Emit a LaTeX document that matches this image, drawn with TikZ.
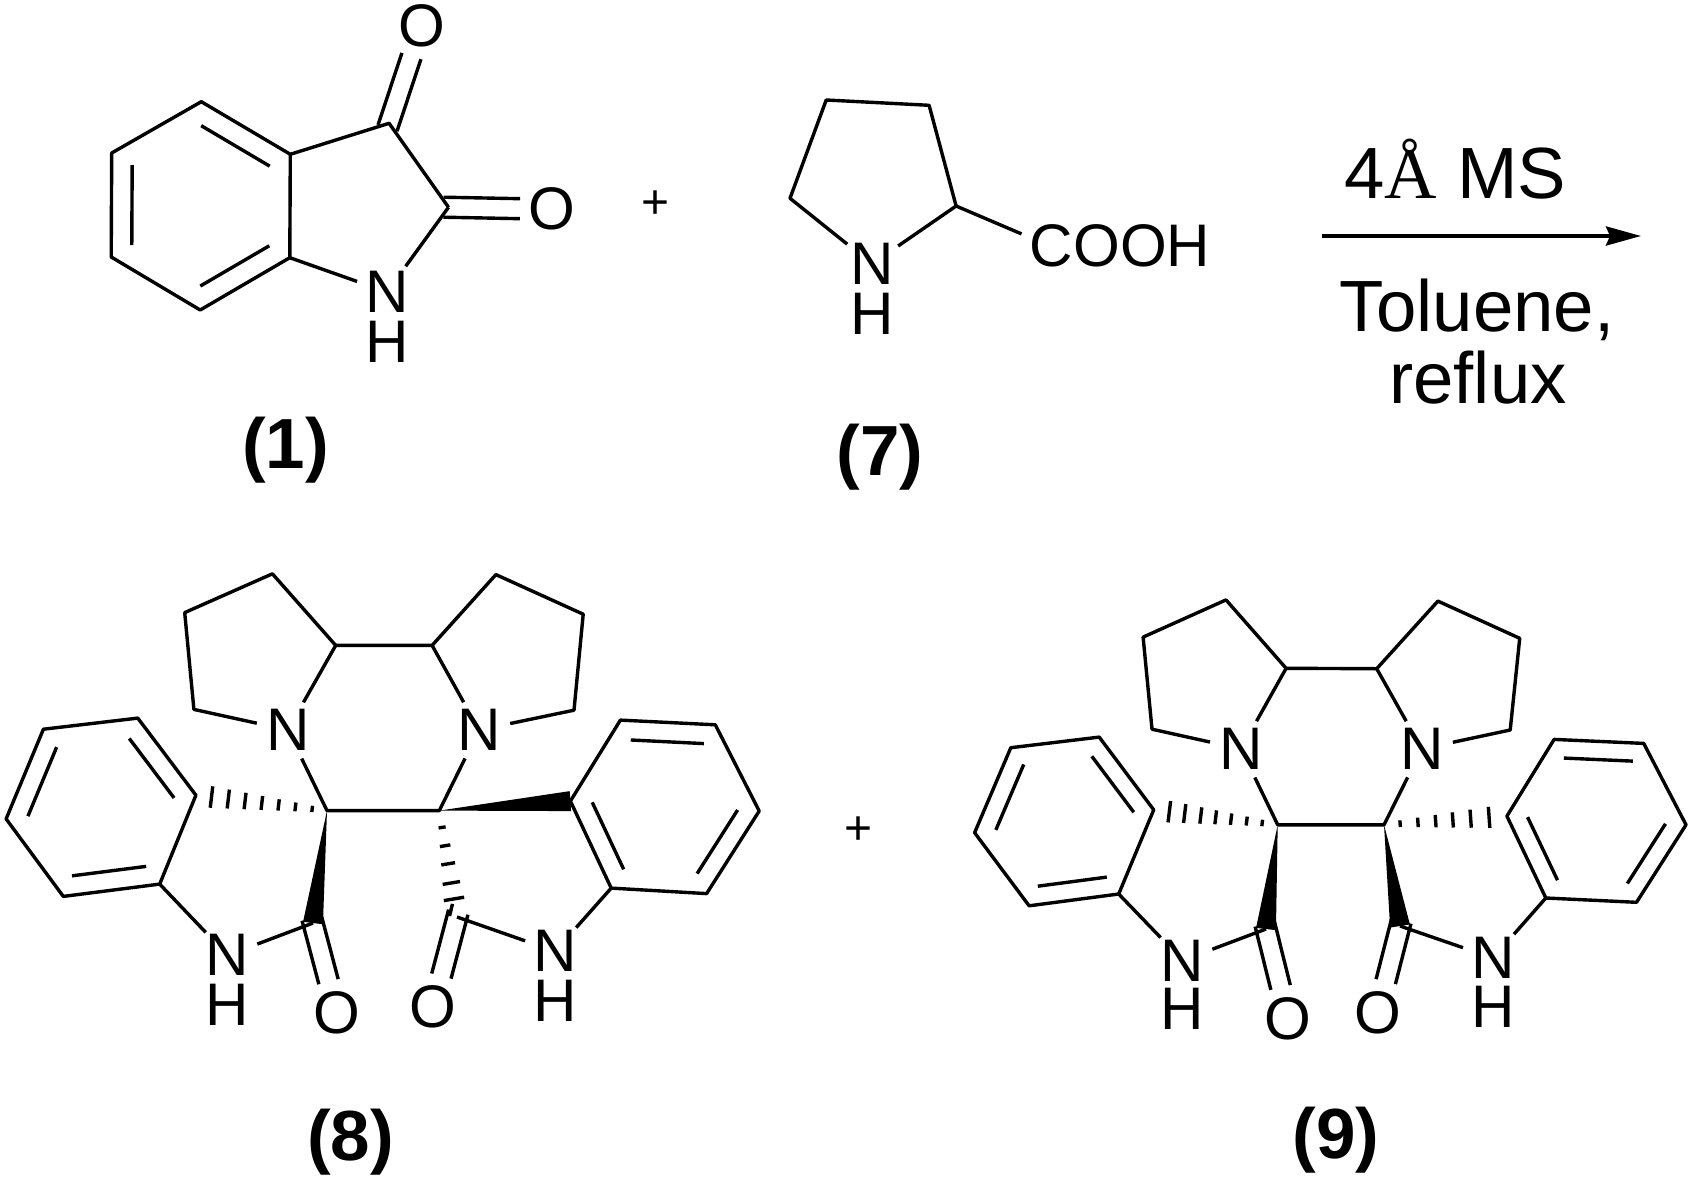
\documentclass[tikz,border=0pt]{standalone}
\usepackage{fontspec}
\setmainfont{Liberation Sans}
\newfontfamily\angfont{Liberation Serif}
\usetikzlibrary{calc,arrows.meta}
\def\innerbond(#1)(#2)(#3){\draw[bond] ($(#1)!0.23!(#3)$) -- ($(#2)!0.23!(#3)$);}
\def\dblbond(#1)(#2){\draw[bond, shorten <=-0.1cm, shorten >=0.64cm] ($(#1)!0.2cm!90:(#2)$) -- ($(#2)!0.2cm!-90:(#1)$); \draw[bond, shorten <=-0.1cm, shorten >=0.64cm] ($(#1)!0.2cm!-90:(#2)$) -- ($(#2)!0.2cm!90:(#1)$);}
\def\wedgebond(#1)(#2){\fill ($(#2)!0.2cm!90:(#1)$) -- (#1) -- ($(#2)!0.2cm!-90:(#1)$) -- cycle;}
\def\hashbond(#1)(#2)#3{\foreach \t [evaluate=\t as \w using 0.04+0.2*\t] in {#3} {\draw[bond] ($(#1)!\t!(#2)!\w cm!90:(#2)$) -- ($(#1)!\t!(#2)!\w cm!-90:(#2)$);}}
\tikzset{
	bond/.style={line width=0.68mm, line join=round},
	atom/.style={circle, inner sep=0.02cm, font=\fontsize{34.2}{34.2}\selectfont},
	compound/.style={anchor=base, inner sep=0, font=\fontsize{40.4}{40.4}\selectfont\bfseries},
	reagent/.style={anchor=base, inner sep=0, font=\fontsize{41.3}{41.3}\selectfont},
	plus/.style={inner sep=0, font=\fontsize{27.3}{27.3}\selectfont}
}

\begin{document}
\begin{tikzpicture}[x=0.02cm, y=-0.02cm]
	%%%%% START %%%%%
	\useasboundingbox (0, 0) rectangle (1692, 1176);
	
	%%%%% isatin %%%%%
	\coordinate (a1) at (201.3, 101.7);
	\coordinate (a2) at (290.3, 154.3);
	\coordinate (a3) at (289.8, 257.7);
	\coordinate (a4) at (200.2, 310);
	\coordinate (a5) at (111.2, 257);
	\coordinate (a6) at (111.7, 153);
	\coordinate (ac) at (200.7, 205.8);
	\coordinate (a7) at (389.1, 123.3);
	\coordinate (a8) at (448.5, 207.3);
	\node[atom] (an) at (387, 292) {N};
	\node[atom] (ah) at (387, 342) {H};
	\node[atom] (ao1) at (421.5, 25.7) {O};
	\node[atom] (ao2) at (552, 209.3) {O};
	
	\draw[bond] (a1) -- (a2) -- (a3) -- (a4) -- (a5) -- (a6) -- cycle;
	\innerbond(a1)(a2)(ac);
	\innerbond(a3)(a4)(ac);
	\innerbond(a5)(a6)(ac);
	\draw[bond] (a2) -- (a7) -- (a8);
	\draw[bond] (a3) -- (an);
	\draw[bond] (a8) -- (an);
	\dblbond(a7)(ao1);
	\dblbond(a8)(ao2);
	
	\node[plus] (plus1) at (655.7, 205) {+};
	
	%%%%% proline %%%%%
	\coordinate (b1) at (790, 198.3);
	\coordinate (b2) at (826.2, 100);
	\coordinate (b3) at (929.1, 105.3);
	\coordinate (b4) at (956.1, 206);
	\node[atom] (bn) at (872, 264) {N};
	\node[atom] (bh) at (872, 314.3) {H};
	\node[inner sep=0.16cm, font=\fontsize{34.2}{34.2}\selectfont] (cooh) at (1120, 246) {COOH};
	
	\draw[bond] (bn) -- (b1) -- (b2) -- (b3) -- (b4) -- (bn);
	\draw[bond] (b4) -- (cooh.173);
	
	%%%%% reagents %%%%%
	\node[reagent] (ms) at (1455, 198.3) {4{\angfont Å} MS};
	\coordinate (arrowtail) at (1322, 236);
	\coordinate (arrowtip) at (1641, 236);
	\draw[line width=0.8mm, -{Stealth[length=0.7cm, width=0.38cm, inset=0.08cm]}] (arrowtail) -- (arrowtip);
	\node[reagent] (toluene) at (1477, 331.7) {Toluene,};
	\node[reagent] (reflux) at (1478, 403.3) {reflux};
	
	\node[compound] (lab1) at (285.7, 468.7) {(1)};
	\node[compound] (lab7) at (880, 475) {(7)};
	
	%%%%% product 8 %%%%%
	\coordinate (c1) at (193.9, 709.4);
	\coordinate (c2) at (184.7, 612.6);
	\coordinate (c3) at (272.4, 573.8);
	\coordinate (c4) at (335.7, 645.4);
	\coordinate (c5) at (432.1, 645.4);
	\coordinate (c6) at (495.9, 574.6);
	\coordinate (c7) at (583.2, 614.2);
	\coordinate (c8) at (574, 710.2);
	\node[atom] (cn1) at (287.8, 730) {N};
	\node[atom] (cn2) at (479.1, 730) {N};
	\coordinate (cs1) at (327, 810.6);
	\coordinate (cs2) at (439.3, 810.6);
	
	\draw[bond] (cn1) -- (c1) -- (c2) -- (c3) -- (c4) -- (c5) -- (c6) -- (c7) -- (c8) -- (cn2);
	\draw[bond] (cn1) -- (c4);
	\draw[bond] (cn2) -- (c5);
	\draw[bond] (cn1) -- (cs1) -- (cs2) -- (cn2);
	
	\coordinate (d1) at (137.8, 718.1);
	\coordinate (d2) at (43.4, 729.2);
	\coordinate (d3) at (6.1, 818.9);
	\coordinate (d4) at (63.3, 896.4);
	\coordinate (d5) at (159.7, 884.1);
	\coordinate (d6) at (195.9, 795.2);
	\coordinate (dc) at (101, 807);
	\draw[bond] (d1) -- (d2) -- (d3) -- (d4) -- (d5) -- (d6) -- cycle;
	\innerbond(d1)(d6)(dc);
	\innerbond(d2)(d3)(dc);
	\innerbond(d4)(d5)(dc);
	
	\coordinate (e1) at (620.4, 720.1);
	\coordinate (e2) at (715.3, 724.8);
	\coordinate (e3) at (759.2, 811);
	\coordinate (e4) at (706.6, 893.6);
	\coordinate (e5) at (611.2, 888.1);
	\coordinate (e6) at (570.4, 801.1);
	\coordinate (ec) at (665.4, 806.5);
	\draw[bond] (e1) -- (e2) -- (e3) -- (e4) -- (e5) -- (e6) -- cycle;
	\innerbond(e1)(e2)(ec);
	\innerbond(e3)(e4)(ec);
	\innerbond(e5)(e6)(ec);
	
	\coordinate (co1) at (313, 923);
	\coordinate (co2) at (457, 917);
	\coordinate (cross) at (452.5, 903.9);
	\coordinate (crossend) at (449.5, 916);
	\node[atom] (fn1) at (227.6, 955.3) {N};
	\node[atom] (fh1) at (227.6, 1004.7) {H};
	\node[atom] (fn2) at (555.1, 951.3) {N};
	\node[atom] (fh2) at (555.1, 1000.7) {H};
	\node[atom] (fo1) at (336.7, 1012.6) {O};
	\node[atom] (fo2) at (433.2, 1007) {O};
	
	\hashbond(cs1)(d6){0.113,0.241,0.369,0.497,0.625,0.753,0.881}
	\wedgebond(cs1)(co1);
	\wedgebond(cs2)(e6);
	\hashbond(cs2)(co2){0.158,0.33,0.5,0.68,0.83}
	\draw[bond] (d5) -- (fn1) -- (co1);
	\draw[bond] (e5) -- (fn2) -- (co2);
	\dblbond(co1)(fo1);
	\dblbond(co2)(fo2);
	\draw[bond] (cross) -- (crossend);
	
	\node[plus] (plus2) at (858.4, 830.8) {+};
	\node[compound] (lab8) at (350.5, 1160) {(8)};
	
	%%%%% product 9 %%%%%
	\coordinate (g1) at (1152, 729.2);
	\coordinate (g2) at (1143.1, 637.1);
	\coordinate (g3) at (1226, 599.9);
	\coordinate (g4) at (1286.1, 668.3);
	\coordinate (g5) at (1376.7, 668.7);
	\coordinate (g6) at (1437.9, 601.1);
	\coordinate (g7) at (1519.7, 638.3);
	\coordinate (g8) at (1510.2, 730);
	\node[atom] (gn1) at (1241, 748.9) {N};
	\node[atom] (gn2) at (1421.8, 748.9) {N};
	\coordinate (gs1) at (1277.7, 824.8);
	\coordinate (gs2) at (1384, 824.8);
	
	\draw[bond] (gn1) -- (g1) -- (g2) -- (g3) -- (g4) -- (g5) -- (g6) -- (g7) -- (g8) -- (gn2);
	\draw[bond] (gn1) -- (g4);
	\draw[bond] (gn2) -- (g5);
	\draw[bond] (gn1) -- (gs1) -- (gs2) -- (gn2);
	
	\coordinate (h1) at (1099.2, 737.1);
	\coordinate (h2) at (1010.8, 747.7);
	\coordinate (h3) at (974.6, 832.7);
	\coordinate (h4) at (1029.1, 905.8);
	\coordinate (h5) at (1118.7, 894);
	\coordinate (h6) at (1153.7, 809.8);
	\coordinate (hc) at (1067, 820.5);
	\draw[bond] (h1) -- (h2) -- (h3) -- (h4) -- (h5) -- (h6) -- cycle;
	\innerbond(h1)(h6)(hc);
	\innerbond(h2)(h3)(hc);
	\innerbond(h4)(h5)(hc);
	
	\coordinate (i1) at (1554.1, 739.4);
	\coordinate (i2) at (1643.7, 743.4);
	\coordinate (i3) at (1686, 824.8);
	\coordinate (i4) at (1636.5, 902.3);
	\coordinate (i5) at (1545.8, 898);
	\coordinate (i6) at (1506.9, 816.1);
	\coordinate (ic) at (1596.7, 820.5);
	\draw[bond] (i1) -- (i2) -- (i3) -- (i4) -- (i5) -- (i6) -- cycle;
	\innerbond(i1)(i2)(ic);
	\innerbond(i3)(i4)(ic);
	\innerbond(i5)(i6)(ic);
	
	\coordinate (go1) at (1266, 929);
	\coordinate (go2) at (1400, 926);
	\node[atom] (kn1) at (1182.6, 960.4) {N};
	\node[atom] (kh1) at (1182.6, 1008.6) {H};
	\node[atom] (kn2) at (1493, 958) {N};
	\node[atom] (kh2) at (1493, 1006.6) {H};
	\node[atom] (ko1) at (1288.3, 1018.5) {O};
	\node[atom] (ko2) at (1377.8, 1012.6) {O};
	
	\hashbond(gs1)(h6){0.125,0.25,0.376,0.5,0.62,0.75,0.874}
	\hashbond(gs2)(i6){0.131,0.276,0.42,0.56,0.705,0.855}
	\wedgebond(gs1)(go1);
	\wedgebond(gs2)(go2);
	\draw[bond] (h5) -- (kn1) -- (go1);
	\draw[bond] (i5) -- (kn2) -- (go2);
	\dblbond(go1)(ko1);
	\dblbond(go2)(ko2);
	
	\node[compound] (lab9) at (1335.9, 1158.5) {(9)};
	
	%%%%% END %%%%%
\end{tikzpicture}
\end{document}
